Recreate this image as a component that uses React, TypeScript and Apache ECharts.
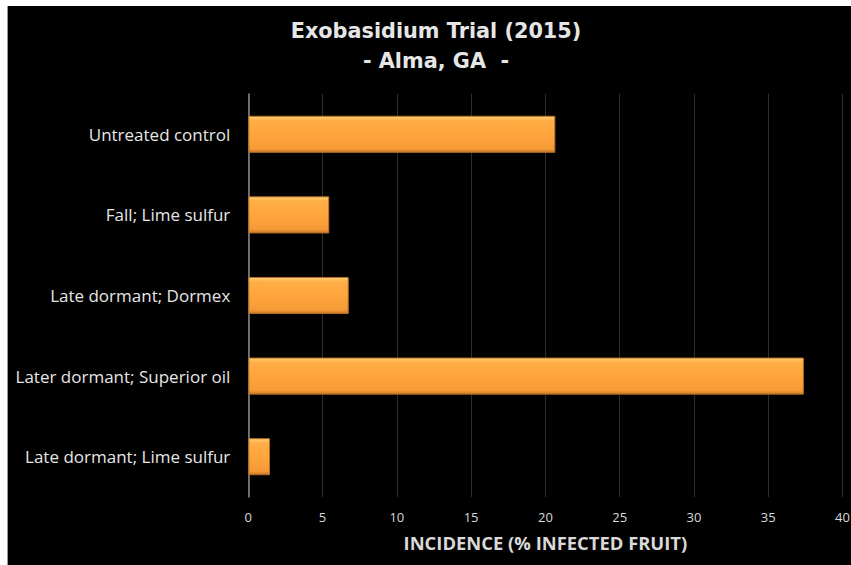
import React, { useEffect, useRef } from "react";
import * as echarts from "echarts";

const categories = [
  "Untreated control",
  "Fall; Lime sulfur",
  "Late dormant; Dormex",
  "Later dormant; Superior oil",
  "Late dormant; Lime sulfur",
];
const incidence = [20.67, 5.45, 6.76, 37.4, 1.46];
const xTicks = [0, 5, 10, 15, 20, 25, 30, 35, 40];
const titleLines = ["Exobasidium Trial (2015)", "- Alma, GA  -"];
const xAxisTitle = "INCIDENCE (% INFECTED FRUIT)";

export default function App() {
  const ref = useRef<HTMLDivElement>(null);
  useEffect(() => {
    if (!ref.current) return;
    const chart = echarts.init(ref.current, undefined, { renderer: "svg" });
    const font = "'Open Sans', 'Noto Sans', sans-serif";
    chart.setOption({
      animation: false,
      backgroundColor: "#000000",
      title: {
        text: titleLines.join("\n"),
        left: 423,
        textAlign: "center",
        top: 5,
        textStyle: {
          color: "#e6e6e6",
          fontFamily: "'DejaVu Sans', sans-serif",
          fontWeight: "bold",
          fontSize: 20.8,
          lineHeight: 30,
        },
      },
      grid: {
        left: 240.3,
        right: 8.5,
        top: 88,
        bottom: 68,
        containLabel: false,
        outerBoundsMode: "none",
      },
      xAxis: {
        type: "value",
        min: xTicks[0],
        max: xTicks[xTicks.length - 1],
        interval: 5,
        name: xAxisTitle,
        nameLocation: "middle",
        nameGap: 36,
        nameTextStyle: {
          color: "#d9d9d9",
          fontFamily: font,
          fontWeight: "bold",
          fontSize: 18.4,
        },
        axisLine: { show: false },
        axisTick: { show: false },
        axisLabel: { color: "#d9d9d9", fontFamily: font, fontSize: 13, margin: 13 },
        splitLine: { show: true, lineStyle: { color: "#2e2e2e", width: 1 } },
      },
      yAxis: {
        type: "category",
        data: categories,
        inverse: true,
        axisLine: { show: true, lineStyle: { color: "#8a8a8a", width: 1.5 } },
        axisTick: { show: false },
        axisLabel: { color: "#e6e6e6", fontFamily: font, fontSize: 17, margin: 18 },
      },
      series: [
        {
          type: "bar",
          data: incidence,
          barWidth: "46%",
          itemStyle: {
            color: new echarts.graphic.LinearGradient(0, 0, 0, 1, [
              { offset: 0, color: "#ffd27a" },
              { offset: 0.12, color: "#ffae45" },
              { offset: 0.5, color: "#ffa53d" },
              { offset: 0.9, color: "#f69a36" },
              { offset: 1, color: "#c77a2a" },
            ]),
            borderColor: "#b36d24",
            borderWidth: 1,
          },
        },
      ],
    });
    return () => chart.dispose();
  }, []);
  return (
    <div
      ref={ref}
      style={{
        position: "fixed",
        left: 7,
        top: 6,
        width: 844,
        height: 559,
        borderLeft: "1px solid #999",
        boxSizing: "border-box",
        background: "#000",
      }}
    />
  );
}
